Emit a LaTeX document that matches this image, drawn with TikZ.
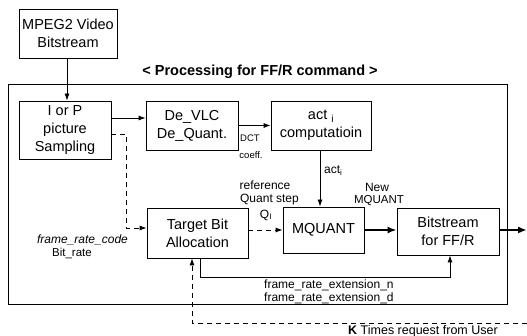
\documentclass[tikz,border=0pt]{standalone}
\usepackage{fontspec}
\setmainfont{Liberation Sans}
\usetikzlibrary{arrows.meta}
\begin{document}
\begin{tikzpicture}[x=1pt,y=-1pt,
  box/.style={draw, line width=0.8pt, inner sep=0pt, align=center,
    font=\fontsize{14.5}{18}\selectfont},
  lbl/.style={inner sep=0pt, align=center, font=\fontsize{12}{13}\selectfont},
  small/.style={inner sep=0pt, align=center, font=\fontsize{9.5}{10}\selectfont},
  arr/.style={-{Latex[length=7pt,width=5pt]}, line width=0.8pt},
  thickarr/.style={-{Latex[length=9pt,width=7pt]}, line width=2pt},
  dsh/.style={dash pattern=on 5pt off 4pt}
]
\useasboundingbox (0,0) rectangle (527,336);

% frame and title
\node[draw, line width=1pt, minimum width=499pt, minimum height=220pt, inner sep=0pt] (frame) at (257.5,195) {};
\node[inner sep=0pt, font=\fontsize{14.5}{16}\selectfont\bfseries] (title) at (260,72) {< Processing for FF/R command >};

% boxes
\node[box, minimum width=98pt, minimum height=49pt] (mpeg) at (68,33.5) {MPEG2 Video\\Bitstream};
\node[box, minimum width=92pt, minimum height=58pt] (iorp) at (65,130) {I or P\\picture\\Sampling};
\node[box, minimum width=92pt, minimum height=49pt] (devlc) at (192,125.5) {De\_VLC\\De\_Quant.};
\node[box, minimum width=100pt, minimum height=49pt] (act) at (321,125.5) {act \textsubscript{i}\\computatioin};
\node[box, minimum width=101pt, minimum height=50pt] (target) at (197.5,233) {Target Bit\\Allocation};
\node[box, minimum width=81pt, minimum height=46pt] (mquant) at (323.5,230) {MQUANT};
\node[box, minimum width=102pt, minimum height=47pt] (bits) at (448,231.5) {Bitstream\\for FF/R};

\coordinate (out) at (527,230);
\coordinate (user) at (527,323);

% labels
\node[small] (dct) at (250,138) {DCT};
\node[small] (coeff) at (251,155) {coeff.};
\node[lbl, anchor=west] (acti) at (324,171) {act\textsubscript{i}};
\node[lbl] (ref) at (265,185) {reference};
\node[lbl] (qstep) at (269.5,200) {Quant step};
\node[lbl] (qi) at (266,215) {Q\textsubscript{I}};
\node[lbl] (new) at (377,187) {New};
\node[lbl, font=\fontsize{11.5}{12}\selectfont] (newmq) at (379,201) {MQUANT};
\node[lbl, font=\fontsize{12}{13}\selectfont\itshape] (frc) at (82.5,240) {frame\_rate\_code};
\node[lbl, font=\fontsize{11.5}{12}\selectfont] (br) at (72,253) {Bit\_rate};
\node[lbl, anchor=west] (extn) at (264,285) {frame\_rate\_extension\_n};
\node[lbl, anchor=west] (extd) at (264,298) {frame\_rate\_extension\_d};
\node[inner sep=0pt, anchor=west, font=\fontsize{12.5}{13}\selectfont] (ktimes) at (348,331) {\textbf{K} Times request from User};

% connectors
\draw[arr] (mpeg.south -| 67,0) -- (iorp.north -| 67,0);
\draw[arr] (iorp.east |- 0,118) -- (devlc.west |- 0,118);
\draw[arr] (devlc.east) -- (act.west);
\draw[arr] (act.south -| 320,0) -- (mquant.north -| 320,0);
\draw[arr, dsh] (iorp.east |- 0,134) -- (126,134) -- (126,228) -- (target.west |- 0,228);
\draw[arr, dsh] (target.east |- mquant.west) -- (mquant.west);
\draw[thickarr] (mquant.east) -- (bits.west |- mquant.east);
\draw[thickarr] (bits.east |- out) -- (out);
\draw[arr] (target.south -| 200,0) -- (200,277) -| (bits.south -| 450,0);
\draw[arr, dsh] (user) -- (192,323) -- (target.south -| 192,0);
\end{tikzpicture}
\end{document}
